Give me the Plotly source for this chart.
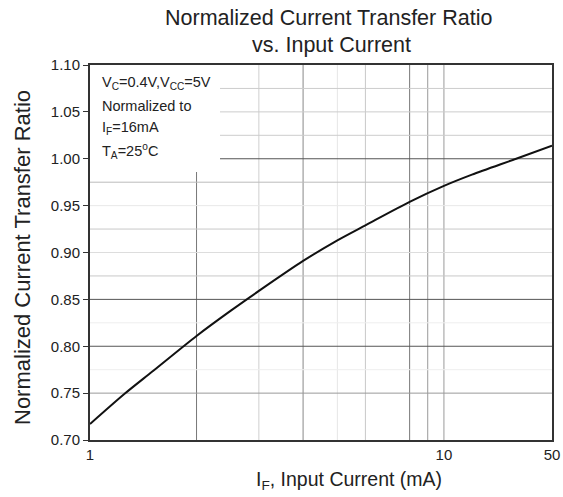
import numpy as np
import plotly.graph_objects as go

# ---- data ----
input_current_ma = [1, 1.25, 1.5, 2, 2.5, 3, 4, 5, 6, 8, 10, 12, 16, 20.2]
normalized_ctr = [0.717, 0.749, 0.773, 0.811, 0.838, 0.859, 0.891, 0.913, 0.929,
                  0.954, 0.971, 0.983, 1.000, 1.014]

x_tick_vals = [1, 10, 20.2]
x_tick_text = ["1", "10", "50"]
y_tick_vals = [0.70, 0.75, 0.80, 0.85, 0.90, 0.95, 1.00, 1.05, 1.10]

# grid lines (value, colour) as in the scanned datasheet
v_grid = [(2, "#777777"), (3, "#cfcfcf"), (4, "#888888"), (5, "#e6e6e6"),
          (6, "#c8c8c8"), (8, "#777777"), (9, "#999999"), (10, "#9a9a9a")]
h_grid = [(1.075, "#cccccc"), (1.05, "#cccccc"), (1.025, "#cccccc"), (1.00, "#555555"),
          (0.975, "#bbbbbb"), (0.95, "#e8e8e8"), (0.925, "#c8c8c8"), (0.90, "#dddddd"),
          (0.875, "#c8c8c8"), (0.85, "#555555"), (0.825, "#eeeeee"), (0.80, "#555555"),
          (0.775, "#eeeeee"), (0.75, "#999999")]

x_min, x_max = 1, 20.2
y_min, y_max = 0.70, 1.10

FONT = "Liberation Sans, Arial, sans-serif"

fig = go.Figure()
fig.add_trace(go.Scatter(
    x=input_current_ma, y=normalized_ctr, mode="lines",
    line=dict(color="#111111", width=2, shape="spline", smoothing=0.8),
    hoverinfo="skip", showlegend=False))

shapes = []
for v, c in v_grid:
    shapes.append(dict(type="line", xref="x", yref="y", x0=v, x1=v, y0=y_min, y1=y_max,
                       line=dict(color=c, width=1), layer="below"))
for v, c in h_grid:
    shapes.append(dict(type="line", xref="x", yref="y", x0=x_min, x1=x_max, y0=v, y1=v,
                       line=dict(color=c, width=1), layer="below"))
# white box behind the condition text
shapes.append(dict(type="rect", xref="x", yref="y", x0=x_min, x1=2.33, y0=0.986, y1=y_max,
                   fillcolor="white", line=dict(width=0), layer="below"))

annotations = []
cond_lines = ["V<sub>C</sub>=0.4V,V<sub>CC</sub>=5V", "Normalized to",
              "I<sub>F</sub>=16mA", "T<sub>A</sub>=25<sup>o</sup>C"]
cond_y = [83, 106, 128, 151]
for t, yp in zip(cond_lines, cond_y):
    annotations.append(dict(text=t, xref="paper", yref="paper",
                            x=(100 - 90) / 462, y=(440 - yp) / 375,
                            xanchor="left", yanchor="middle", showarrow=False,
                            font=dict(family=FONT, size=14.5, color="#222222")))
# title (two lines)
annotations.append(dict(text="Normalized Current Transfer Ratio", xref="paper", yref="paper",
                        x=(328 - 90) / 462, y=(440 - 18) / 375, xanchor="center", yanchor="middle",
                        showarrow=False, font=dict(family=FONT, size=21.5, color="#222222")))
annotations.append(dict(text="vs. Input Current", xref="paper", yref="paper",
                        x=(331 - 90) / 462, y=(440 - 45) / 375, xanchor="center", yanchor="middle",
                        showarrow=False, font=dict(family=FONT, size=21.5, color="#222222")))
# axis titles
annotations.append(dict(text="Normalized Current Transfer Ratio", xref="paper", yref="paper",
                        x=(22 - 90) / 462, y=(440 - 258) / 375, xanchor="center", yanchor="middle",
                        textangle=-90, showarrow=False,
                        font=dict(family=FONT, size=22, color="#222222")))
annotations.append(dict(text="I<sub>F</sub>, Input Current (mA)", xref="paper", yref="paper",
                        x=(349 - 90) / 462, y=(440 - 480) / 375, xanchor="center", yanchor="middle",
                        showarrow=False, font=dict(family=FONT, size=19.5, color="#222222")))

fig.update_layout(
    template="none",
    width=563, height=497, autosize=False,
    margin=dict(l=90, r=11, t=65, b=57, autoexpand=False),
    paper_bgcolor="white", plot_bgcolor="white",
    shapes=shapes, annotations=annotations,
    font=dict(family=FONT, color="#222222"),
    xaxis=dict(type="log", range=[np.log10(x_min), np.log10(x_max)],
               tickvals=x_tick_vals, ticktext=x_tick_text, automargin=False,
               showgrid=False, zeroline=False, showline=True, mirror=True,
               linecolor="#333333", linewidth=2, ticks="", tickfont=dict(size=15)),
    yaxis=dict(range=[y_min, y_max], tickvals=y_tick_vals, tickformat=".2f",
               automargin=False,
               showgrid=False, zeroline=False, showline=True, mirror=True,
               linecolor="#333333", linewidth=2, ticks="outside", ticklen=5,
               tickcolor="#333333", tickfont=dict(size=15)),
)

fig.write_html("out.html", config={"displayModeBar": False},
               post_script="document.body.style.margin='0';")
